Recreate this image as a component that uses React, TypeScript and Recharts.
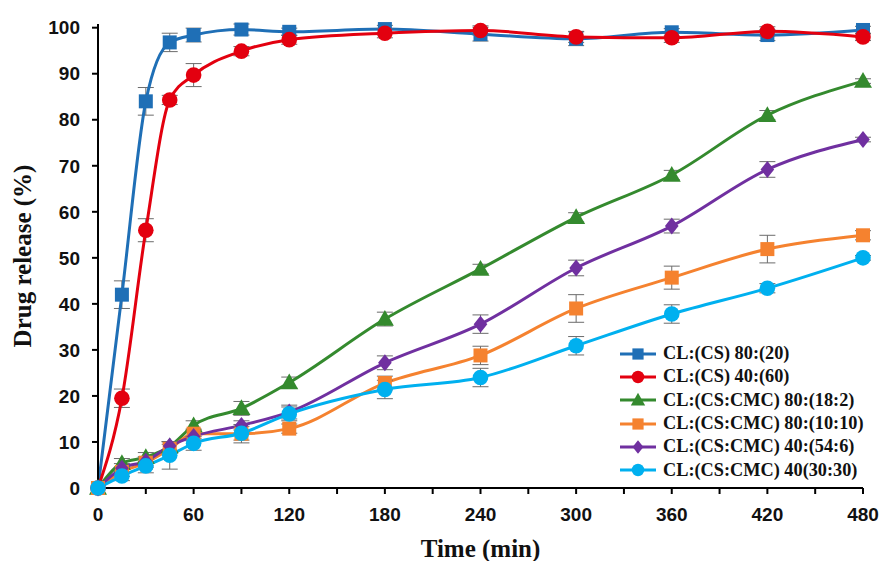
import React from 'react';
import { LineChart, Line, XAxis, YAxis, Legend, ErrorBar } from 'recharts';

const times = [0, 15, 30, 45, 60, 90, 120, 180, 240, 300, 360, 420, 480];
const xTicks = [0, 30, 60, 90, 120, 150, 180, 210, 240, 270, 300, 330, 360, 390, 420, 450, 480];
const yTicks = [0, 10, 20, 30, 40, 50, 60, 70, 80, 90, 100];

const cs8020 = [0, 42, 84, 96.8, 98.4, 99.6, 99.1, 99.7, 98.6, 97.6, 99.0, 98.4, 99.5];
const cs8020Err = [0, 3, 3, 2, 1.5, 1.2, 0.8, 0.8, 1.5, 1.5, 0.8, 1.2, 0.8];
const cs4060 = [0, 19.5, 56, 84.3, 89.7, 94.9, 97.4, 98.8, 99.4, 98.0, 97.8, 99.2, 98.0];
const cs4060Err = [0, 2, 2.5, 1, 2.5, 1, 1, 1, 1, 1.2, 1, 1, 0.8];
const cmc80182 = [0, 5.4, 6.7, 9.0, 13.6, 17.3, 22.9, 36.7, 47.6, 58.8, 68.0, 81.0, 88.4];
const cmc80182Err = [0, 1, 1, 1, 1, 1.5, 1.2, 1.5, 1, 1, 1, 1, 0.5];
const cmc801010 = [0, 3.5, 5.5, 8.5, 11.8, 11.8, 12.9, 22.8, 28.8, 39.0, 45.7, 51.9, 54.9];
const cmc801010Err = [0, 1, 1, 1, 1, 2, 1, 1.5, 2, 3, 2.5, 3, 1];
const cmc40546 = [0, 4.3, 5.8, 9.1, 11.2, 13.6, 16.5, 27.2, 35.6, 47.8, 56.9, 69.2, 75.7];
const cmc40546Err = [0, 1, 1, 1, 1, 1, 1.5, 1.5, 2, 1.7, 1.5, 1.7, 0.5];
const cmc403030 = [0, 2.6, 4.8, 7.1, 9.7, 11.9, 16.1, 21.4, 24.0, 30.9, 37.8, 43.4, 50.0];
const cmc403030Err = [0, 1, 1.5, 3, 1.5, 1.5, 1.5, 2, 2, 2, 2, 1, 0.5];

const seriesNames = [
  'CL:(CS) 80:(20)',
  'CL:(CS) 40:(60)',
  'CL:(CS:CMC) 80:(18:2)',
  'CL:(CS:CMC) 80:(10:10)',
  'CL:(CS:CMC) 40:(54:6)',
  'CL:(CS:CMC) 40(30:30)',
];
const seriesColors = ['#1f6fb6', '#e3000f', '#348a2e', '#f5822f', '#7030a0', '#00b0ef'];
const seriesShapes = ['square', 'circle', 'triangle', 'square', 'diamond', 'circle'];
const seriesValues = [cs8020, cs4060, cmc80182, cmc801010, cmc40546, cmc403030];
const seriesErrors = [cs8020Err, cs4060Err, cmc80182Err, cmc801010Err, cmc40546Err, cmc403030Err];

const data = times.map((t, i) => {
  const row: any = { t };
  seriesValues.forEach((vals, s) => {
    row['s' + s] = vals[i];
    row['e' + s] = seriesErrors[s][i];
  });
  return row;
});

function Marker({ cx, cy, shape, color, size = 1 }: any) {
  if (cx == null || cy == null) return null;
  if (shape === 'square') {
    const h = 7 * size;
    return <rect x={cx - h} y={cy - h} width={2 * h} height={2 * h} fill={color} />;
  }
  if (shape === 'circle') {
    return <circle cx={cx} cy={cy} r={7.8 * size} fill={color} />;
  }
  if (shape === 'triangle') {
    const r = 9 * size;
    return (
      <polygon
        points={`${cx},${cy - r} ${cx + r},${cy + r * 0.75} ${cx - r},${cy + r * 0.75}`}
        fill={color}
      />
    );
  }
  const r = 8.5 * size;
  return (
    <polygon points={`${cx},${cy - r} ${cx + r * 0.8},${cy} ${cx},${cy + r} ${cx - r * 0.8},${cy}`} fill={color} />
  );
}

const renderLegend = () => (
  <div style={{ display: 'flex', flexDirection: 'column' }}>
    {seriesNames.map((name, i) => (
      <div key={name} style={{ display: 'flex', alignItems: 'center', height: 23.3 }}>
        <svg width={40} height={20} style={{ marginRight: 5 }}>
          <line x1={2} y1={10} x2={38} y2={10} stroke={seriesColors[i]} strokeWidth={3} />
          <Marker cx={20} cy={10} shape={seriesShapes[i]} color={seriesColors[i]} size={0.8} />
        </svg>
        <span
          style={{
            fontFamily: '"Liberation Serif", "Times New Roman", serif',
            fontWeight: 'bold',
            fontSize: 18.3,
            color: '#111',
            whiteSpace: 'nowrap',
          }}
        >
          {name}
        </span>
      </div>
    ))}
  </div>
);

const tickStyle = {
  fontFamily: '"Liberation Sans", Arial, sans-serif',
  fontWeight: 'bold',
  fontSize: 19,
  fill: '#111',
};

const titleStyle = {
  fontFamily: '"Liberation Serif", "Times New Roman", serif',
  fontWeight: 'bold',
  fontSize: 25,
  fill: '#111',
};

export default function App() {
  return (
    <div style={{ position: 'absolute', left: 0, top: 0, width: 883, height: 561, background: '#fff' }}>
      <LineChart width={883} height={561} data={data} margin={{ top: 24, right: 20, bottom: 4, left: 0 }}>
        <XAxis
          dataKey="t"
          type="number"
          domain={[0, 480]}
          ticks={xTicks}
          interval={0}
          tickFormatter={(v: number) => (v % 60 === 0 ? String(v) : '')}
          axisLine={{ stroke: '#000', strokeWidth: 2 }}
          tickLine={{ stroke: '#000', strokeWidth: 2 }}
          tickSize={6}
          tickMargin={14}
          tick={tickStyle}
          height={69}
          label={{
            value: 'Time  (min)',
            position: 'insideBottom',
            offset: 0,
            style: titleStyle,
          }}
        />
        <YAxis
          type="number"
          domain={[0, 100]}
          ticks={yTicks}
          interval={0}
          width={98}
          axisLine={{ stroke: '#000', strokeWidth: 2 }}
          tickLine={{ stroke: '#000', strokeWidth: 2 }}
          tickSize={6}
          tickMargin={12}
          tick={tickStyle}
          label={{
            value: 'Drug release  (%)',
            angle: -90,
            position: 'insideLeft',
            offset: 22,
            style: { ...titleStyle, textAnchor: 'middle' },
          }}
        />
        <Legend
          content={renderLegend}
          layout="horizontal"
          verticalAlign="middle"
          align="center"
          wrapperStyle={{ left: 618, top: 342, width: 265 }}
        />
        {seriesNames.map((name, i) => (
          <Line
            key={name}
            name={name}
            dataKey={'s' + i}
            type="monotone"
            stroke={seriesColors[i]}
            strokeWidth={3}
            isAnimationActive={false}
            dot={(p: any) => (
              <Marker key={'d' + i + '-' + p.index} cx={p.cx} cy={p.cy} shape={seriesShapes[i]} color={seriesColors[i]} />
            )}
            activeDot={false}
          >
            <ErrorBar dataKey={'e' + i} direction="y" width={8} stroke="#6b6b6b" strokeWidth={1} isAnimationActive={false} />
          </Line>
        ))}
      </LineChart>
    </div>
  );
}
